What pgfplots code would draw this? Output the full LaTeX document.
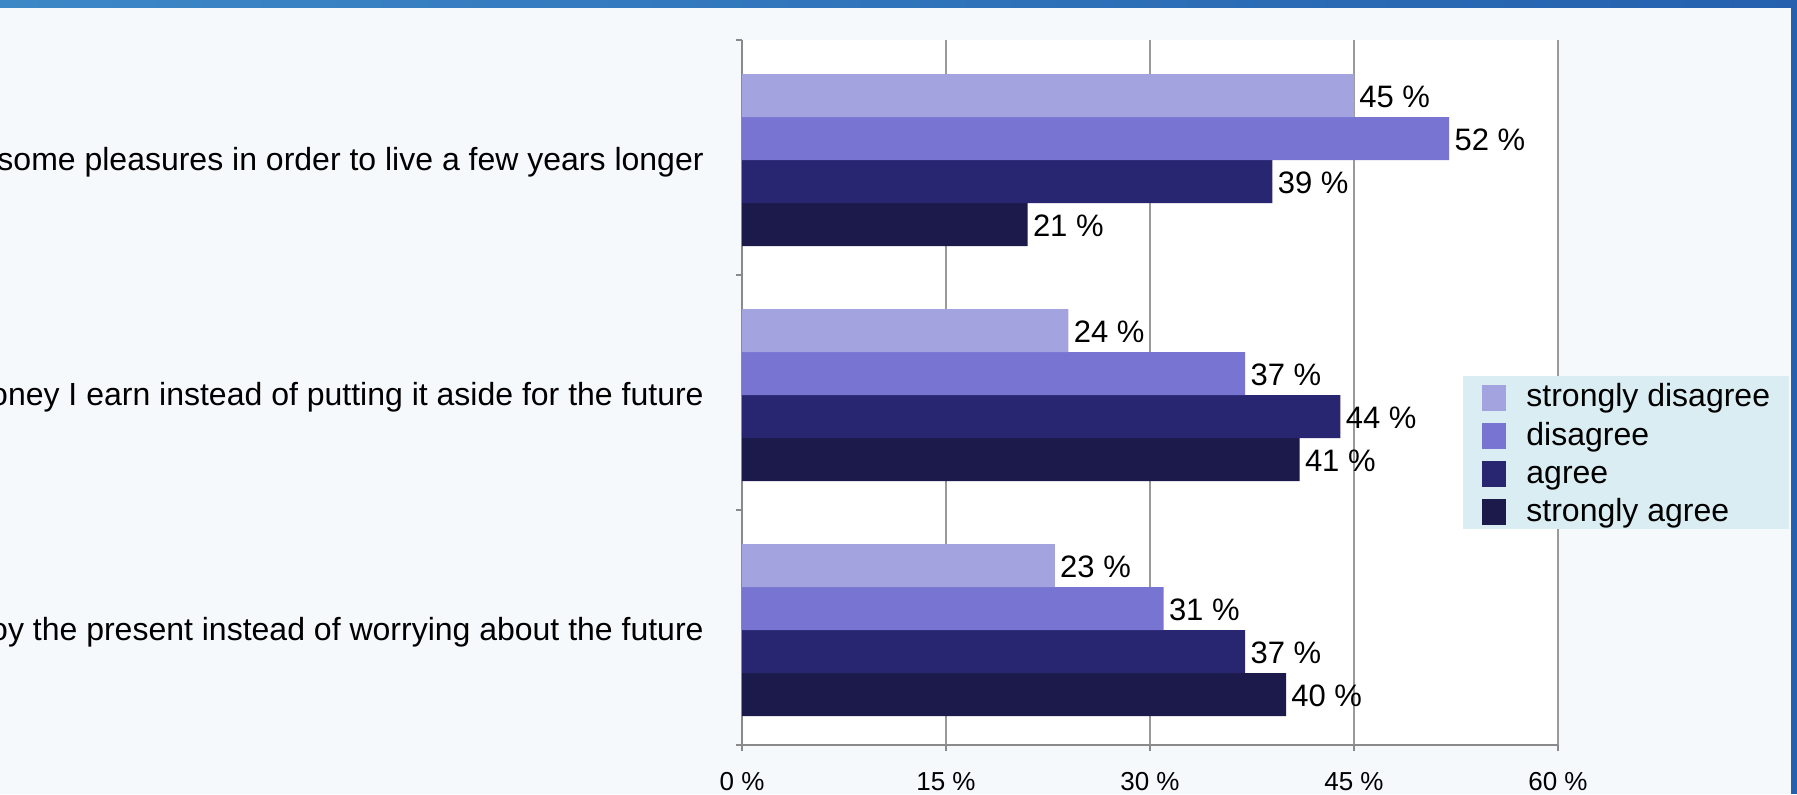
\documentclass[border=0pt]{standalone}
\usepackage{fontspec}
\setmainfont{Liberation Sans}
\usepackage{pgfplots}
\pgfplotsset{compat=1.18}
\definecolor{sdcol}{HTML}{A3A3E0}
\definecolor{dicol}{HTML}{7774D2}
\definecolor{agcol}{HTML}{282670}
\definecolor{sacol}{HTML}{1B1A4B}
\definecolor{bgcol}{HTML}{F5F9FB}
\definecolor{legcol}{HTML}{DAEDF3}
\definecolor{axgray}{HTML}{8A8A8A}
\definecolor{gridgray}{HTML}{9A9A9A}
\definecolor{bandA}{HTML}{3C88C7}
\definecolor{bandB}{HTML}{2460AE}
\begin{document}
\begin{tikzpicture}
\path[use as bounding box] (0,0) rectangle (898.5pt,397pt);
\clip (0,0) rectangle (898.5pt,397pt);
\fill[bgcol] (0,0) rectangle (898.5pt,397pt);
\fill[white] (371pt,24.5pt) rectangle (779pt,377pt);
\begin{axis}[
  at={(371pt,24.5pt)}, anchor=south west,
  scale only axis, width=408pt, height=352.5pt,
  xmin=0, xmax=60, ymin=-0.5, ymax=2.5,
  xbar=0pt, bar width=21.5pt,
  every axis plot/.append style={yshift=-1.25pt},
  axis x line*=bottom, axis y line*=left,
  axis line style={draw=axgray, line width=1.4pt},
  xtick={0,15,30,45,60},
  xticklabels={0 \%,15 \%,30 \%,45 \%,60 \%},
  xticklabel style={font=\fontsize{13}{15}\selectfont, inner sep=0pt, yshift=-10.5pt},
  xmajorgrids, grid style={draw=gridgray, line width=1.15pt},
  ytick={-0.5,0.5,1.5,2.5}, yticklabels={},
  tick align=outside, major tick length=3pt,
  tick style={draw=axgray, line width=1.15pt},
  extra y ticks={0,1,2},
  extra y tick labels={enjoy the present instead of worrying about the future,money I earn instead of putting it aside for the future,some pleasures in order to live a few years longer},
  extra y tick style={major tick length=0pt, tick label style={font=\fontsize{16}{19}\selectfont, anchor=east, inner sep=0pt, xshift=-19pt, yshift=-2.5pt}},
  /pgf/number format/assume math mode=true,
  nodes near coords={\pgfmathprintnumber{\pgfplotspointmeta} \%},
  nodes near coords style={font=\fontsize{15.5}{18}\selectfont, anchor=west, inner sep=0pt, xshift=2.5pt, yshift=-0.8pt, text=black},
  legend style={at={(0.8836,0.5234)}, anchor=north west, fill=legcol, draw=none,
    font=\fontsize{16}{19}\selectfont, inner xsep=9.5pt, inner ysep=2pt,
    row sep=4pt, column sep=10pt,
    nodes={inner sep=0pt, text height=13.25pt, text depth=1.5pt}},
  legend cell align=left,
  reverse legend,
  legend image code/.code={\path[#1,draw=none] (0pt,-6.5pt) rectangle (12pt,6.5pt);},
]
\addplot[fill=sacol, draw=none] coordinates {(40,0) (41,1) (21,2)};
\addplot[fill=agcol, draw=none] coordinates {(37,0) (44,1) (39,2)};
\addplot[fill=dicol, draw=none] coordinates {(31,0) (37,1) (52,2)};
\addplot[fill=sdcol, draw=none] coordinates {(23,0) (24,1) (45,2)};
\legend{strongly agree, agree, disagree, strongly disagree}
\end{axis}
\shade[left color=bandA, right color=bandB] (0,393pt) rectangle (898.5pt,397pt);
\fill[bandB] (895.5pt,0) rectangle (898.5pt,397pt);
\end{tikzpicture}
\end{document}
